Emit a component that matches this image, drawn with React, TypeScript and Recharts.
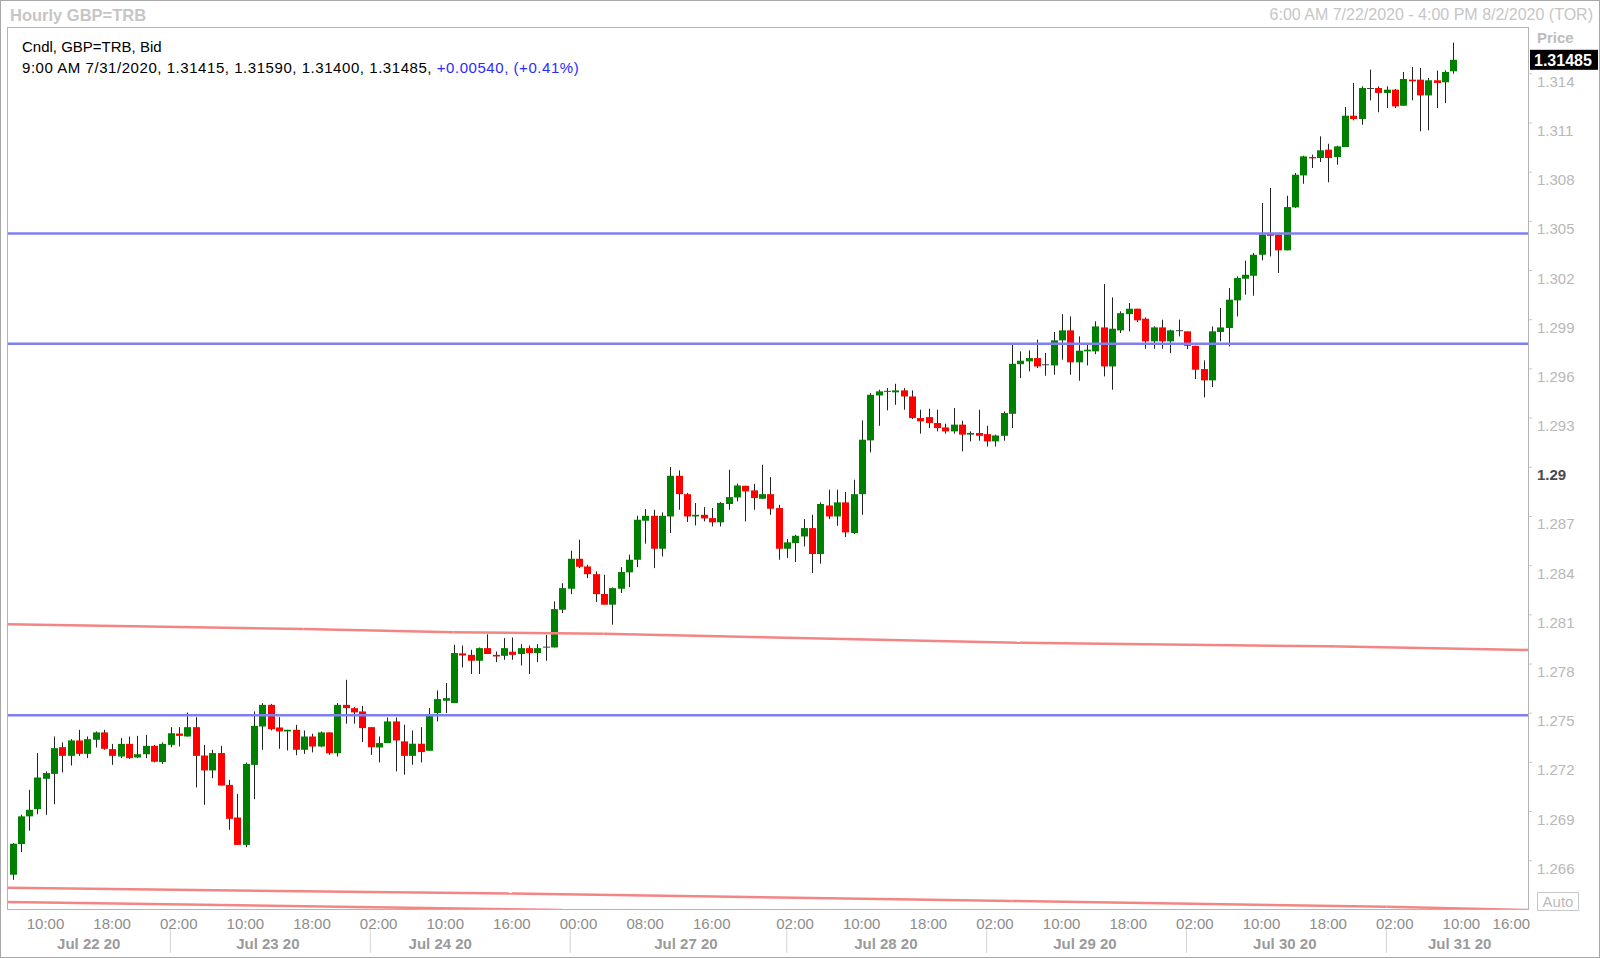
import { ComposedChart, Bar, XAxis, YAxis, ReferenceLine } from "recharts"

// hourly GBP bid candles, 6:00 AM 7/22/2020 .. 9:00 AM 7/31/2020 (weekend collapsed)
const opens = [
  1.26515, 1.26702, 1.26871, 1.26915, 1.271, 1.2713, 1.27293, 1.2724, 1.27334, 1.27252,
  1.27338, 1.27383, 1.27281, 1.27236, 1.27313, 1.2723, 1.2725, 1.27301, 1.27202, 1.27307,
  1.27376, 1.27358, 1.27415, 1.27242, 1.27151, 1.27257, 1.27063, 1.26864, 1.26697, 1.27185,
  1.27419, 1.27551, 1.27413, 1.27389, 1.27399, 1.27277, 1.27358, 1.27297, 1.27383, 1.27256,
  1.27551, 1.27531, 1.27511, 1.27415, 1.27291, 1.27318, 1.2745, 1.27328, 1.2724, 1.27314,
  1.27271, 1.27501, 1.27576, 1.27562, 1.27865, 1.27856, 1.2782, 1.27897, 1.27856, 1.2785,
  1.27875, 1.27861, 1.27897, 1.27867, 1.27897, 1.27901, 1.28131, 1.28259, 1.28442, 1.28395,
  1.28348, 1.28227, 1.28162, 1.28259, 1.28359, 1.28436, 1.28674, 1.28704, 1.28503, 1.287,
  1.28948, 1.28836, 1.287, 1.2871, 1.2869, 1.28664, 1.28776, 1.28816, 1.28887, 1.28859,
  1.28808, 1.28836, 1.28751, 1.28503, 1.28538, 1.28578, 1.28629, 1.28471, 1.28767, 1.287,
  1.28786, 1.28599, 1.28836, 1.29164, 1.29438, 1.29463, 1.29457, 1.29469, 1.29432, 1.293,
  1.29306, 1.2927, 1.29243, 1.29219, 1.2926, 1.29199, 1.29209, 1.29202, 1.29158, 1.29192,
  1.29326, 1.29629, 1.29646, 1.29666, 1.29619, 1.29621, 1.29774, 1.29835, 1.2964, 1.29707,
  1.29707, 1.29853, 1.29615, 1.29835, 1.29934, 1.29967, 1.29906, 1.29768, 1.29853, 1.29768,
  1.29829, 1.29829, 1.29741, 1.29599, 1.2953, 1.29825, 1.29849, 1.30018, 1.3015, 1.30168,
  1.30296, 1.30425, 1.30419, 1.30323, 1.30585, 1.3078, 1.30892, 1.30886, 1.30937, 1.30892,
  1.30953, 1.31144, 1.31124, 1.3131, 1.31313, 1.31283, 1.31303, 1.31205, 1.31364, 1.31364,
  1.31268, 1.3136, 1.31348, 1.31415,
]
const highs = [
  1.26708, 1.26881, 1.27033, 1.27257, 1.27145, 1.27358, 1.27322, 1.27342, 1.27399, 1.27358,
  1.27389, 1.27399, 1.27313, 1.27348, 1.27358, 1.27362, 1.27368, 1.27307, 1.27322, 1.27415,
  1.27415, 1.27504, 1.27476, 1.27307, 1.27277, 1.27301, 1.27094, 1.27008, 1.27199, 1.27511,
  1.27561, 1.27557, 1.27476, 1.27399, 1.27429, 1.27395, 1.27375, 1.27389, 1.27383, 1.27562,
  1.27704, 1.27537, 1.27545, 1.27415, 1.27358, 1.27474, 1.27474, 1.27429, 1.27395, 1.27415,
  1.27531, 1.27639, 1.27684, 1.27917, 1.27913, 1.27887, 1.27901, 1.27981, 1.27877, 1.27958,
  1.27962, 1.27921, 1.27913, 1.27921, 1.27978, 1.28182, 1.28293, 1.28491, 1.28558, 1.28405,
  1.28365, 1.28344, 1.28267, 1.28391, 1.28467, 1.28704, 1.28745, 1.28741, 1.28725, 1.29001,
  1.28981, 1.28843, 1.28782, 1.28757, 1.28751, 1.28788, 1.28985, 1.289, 1.28887, 1.28899,
  1.29015, 1.2894, 1.28771, 1.28562, 1.28588, 1.28684, 1.2871, 1.28786, 1.28863, 1.28863,
  1.28849, 1.28924, 1.29286, 1.29452, 1.29473, 1.29483, 1.29509, 1.29483, 1.29469, 1.29351,
  1.29357, 1.29351, 1.29266, 1.29361, 1.29284, 1.29219, 1.29351, 1.29253, 1.29199, 1.29341,
  1.29754, 1.29707, 1.29713, 1.29778, 1.29697, 1.29825, 1.29934, 1.2992, 1.29798, 1.29747,
  1.2989, 1.30117, 1.30036, 1.29951, 1.30002, 1.29967, 1.29914, 1.29859, 1.299, 1.29839,
  1.299, 1.29829, 1.29741, 1.29652, 1.29859, 1.29971, 1.30093, 1.30164, 1.3026, 1.30307,
  1.30612, 1.30703, 1.30419, 1.30656, 1.30795, 1.309, 1.30906, 1.31018, 1.30973, 1.30961,
  1.31197, 1.31344, 1.31323, 1.31425, 1.31323, 1.31323, 1.31307, 1.31411, 1.31441, 1.31435,
  1.31374, 1.31419, 1.31421, 1.3159,
]
const lows = [
  1.26484, 1.26653, 1.26783, 1.26884, 1.2688, 1.26945, 1.27139, 1.27181, 1.2724, 1.27226,
  1.27291, 1.27277, 1.27185, 1.27226, 1.27222, 1.27226, 1.27226, 1.272, 1.27191, 1.27293,
  1.27297, 1.27358, 1.27047, 1.26941, 1.27104, 1.27059, 1.26789, 1.26697, 1.26683, 1.26976,
  1.27277, 1.27395, 1.27283, 1.27273, 1.27244, 1.27252, 1.27261, 1.27293, 1.27246, 1.27236,
  1.27436, 1.27436, 1.27324, 1.27246, 1.272, 1.27318, 1.27145, 1.27125, 1.27186, 1.272,
  1.27271, 1.2745, 1.27501, 1.27562, 1.27779, 1.27739, 1.27739, 1.27861, 1.27812, 1.27826,
  1.27826, 1.27791, 1.27739, 1.27812, 1.2782, 1.27901, 1.28111, 1.28226, 1.28385, 1.28324,
  1.28178, 1.28162, 1.2804, 1.28233, 1.28269, 1.28391, 1.28534, 1.28385, 1.28456, 1.28599,
  1.28741, 1.28666, 1.28645, 1.2867, 1.28639, 1.28639, 1.28741, 1.28792, 1.2867, 1.28741,
  1.28806, 1.2871, 1.28436, 1.28446, 1.28422, 1.28517, 1.28355, 1.28412, 1.28684, 1.28643,
  1.28574, 1.28593, 1.2871, 1.29091, 1.29253, 1.29347, 1.29381, 1.29351, 1.29294, 1.29205,
  1.29239, 1.29219, 1.29205, 1.29205, 1.29097, 1.29158, 1.29162, 1.29127, 1.29127, 1.29162,
  1.29239, 1.29544, 1.29585, 1.29605, 1.29558, 1.29564, 1.29656, 1.29564, 1.29528, 1.29621,
  1.2969, 1.29554, 1.29473, 1.29819, 1.29829, 1.29886, 1.29723, 1.29723, 1.29723, 1.29696,
  1.29798, 1.29721, 1.29538, 1.29426, 1.29489, 1.29768, 1.29737, 1.2992, 1.30053, 1.30046,
  1.30262, 1.30286, 1.30185, 1.30323, 1.30581, 1.30729, 1.30825, 1.30862, 1.30738, 1.30845,
  1.30953, 1.31116, 1.31089, 1.31238, 1.31165, 1.31191, 1.31191, 1.31205, 1.31238, 1.31049,
  1.31055, 1.31191, 1.31221, 1.314,
]
const closes = [
  1.26704, 1.26871, 1.26911, 1.27108, 1.27135, 1.27287, 1.2724, 1.27334, 1.27252, 1.27342,
  1.27383, 1.27283, 1.2724, 1.27313, 1.27226, 1.2725, 1.27301, 1.27204, 1.27313, 1.27378,
  1.27362, 1.27415, 1.2724, 1.27151, 1.27257, 1.27059, 1.26856, 1.26697, 1.27191, 1.27423,
  1.27551, 1.27403, 1.27389, 1.27399, 1.27277, 1.27358, 1.27297, 1.27383, 1.27256, 1.27551,
  1.27531, 1.27505, 1.27409, 1.27293, 1.27318, 1.2745, 1.27334, 1.2724, 1.27314, 1.27263,
  1.27484, 1.27586, 1.27592, 1.27867, 1.27852, 1.2782, 1.27897, 1.27861, 1.27846, 1.27897,
  1.27856, 1.27897, 1.27867, 1.27897, 1.27903, 1.28135, 1.28263, 1.28442, 1.28393, 1.28348,
  1.28226, 1.28162, 1.28263, 1.28361, 1.28436, 1.2868, 1.28704, 1.28503, 1.28704, 1.28948,
  1.28836, 1.287, 1.2871, 1.28688, 1.28664, 1.28782, 1.28818, 1.28889, 1.28853, 1.28812,
  1.28836, 1.28747, 1.28503, 1.28542, 1.28582, 1.28629, 1.28471, 1.28776, 1.287, 1.28786,
  1.28603, 1.28836, 1.29168, 1.29442, 1.29463, 1.29457, 1.29469, 1.29432, 1.293, 1.2928,
  1.2927, 1.29239, 1.29219, 1.2926, 1.29199, 1.29209, 1.29192, 1.29158, 1.29194, 1.29331,
  1.29631, 1.2965, 1.29666, 1.29615, 1.29625, 1.29774, 1.29835, 1.2964, 1.29711, 1.29717,
  1.29859, 1.29615, 1.29845, 1.2994, 1.29967, 1.29896, 1.29768, 1.29853, 1.29768, 1.29835,
  1.29833, 1.29741, 1.29595, 1.2953, 1.29829, 1.29853, 1.30022, 1.30154, 1.30174, 1.30296,
  1.30419, 1.30412, 1.30323, 1.30587, 1.30784, 1.30896, 1.30884, 1.30933, 1.30886, 1.30957,
  1.31144, 1.31124, 1.31313, 1.3131, 1.31283, 1.31303, 1.31201, 1.31368, 1.31354, 1.31268,
  1.3136, 1.31344, 1.31411, 1.31485,
]

// bottom axis: bar index -> hour label
const timeTickIdx = [4, 12, 20, 28, 36, 44, 52, 60, 68, 76, 84, 94, 102, 110, 118, 126, 134, 142, 150, 158, 166, 174, 180]
const timeTickLabels = ["10:00", "18:00", "02:00", "10:00", "18:00", "02:00", "10:00", "16:00", "00:00", "08:00", "16:00",
  "02:00", "10:00", "18:00", "02:00", "10:00", "18:00", "02:00", "10:00", "18:00", "02:00", "10:00", "16:00"]
const dateTickIdx = [9.2, 30.7, 51.4, 80.9, 104.9, 128.8, 152.8, 173.8]
const dateTickLabels = ["Jul 22 20", "Jul 23 20", "Jul 24 20", "Jul 27 20", "Jul 28 20", "Jul 29 20", "Jul 30 20", "Jul 31 20"]
const daySeparators = [19, 43, 67, 93, 117, 141, 165]

const priceTicks = [1.266, 1.269, 1.272, 1.275, 1.278, 1.281, 1.284, 1.287, 1.29, 1.293, 1.296, 1.299, 1.302, 1.305, 1.308, 1.311, 1.314]
const lastPrice = 1.31485

// drawn horizontal levels
const levels = [1.30426, 1.29754, 1.27488]
// moving-average style lines: [index, price] pairs
const maUpper = [[-0.5, 1.28042], [35, 1.28013], [53, 1.27994], [71, 1.27984], [121, 1.2793], [158, 1.27908], [182, 1.27886]]
const maLow1 = [[-0.5, 1.26435], [60, 1.264], [120, 1.26355], [165, 1.2632], [182, 1.263]]
const maLow2 = [[-0.5, 1.26349], [66, 1.263]]

const bars = opens.map((o, i) => ({ i, o, h: highs[i], l: lows[i], c: closes[i] }))

const GREEN = "#008000"
const RED = "#ff0000"
const FONT = '"Liberation Sans", Arial, sans-serif'

function Candle(props: any) {
  const { x, y, width, height, payload } = props
  if (!payload) return <g />
  const { o, h, l, c } = payload
  const top = Math.min(y, y + height)
  const span = Math.abs(height)
  const k = h > l ? span / (h - l) : 0
  const cx = Math.round(x + width / 2) + 0.5
  const yo = top + (h - o) * k
  const yc = top + (h - c) * k
  const bodyTop = Math.min(yo, yc)
  const bodyH = Math.abs(yo - yc)
  return (
    <g>
      <line x1={cx} x2={cx} y1={top} y2={top + span} stroke="#222" strokeWidth={1} />
      {bodyH < 1 ? (
        <line x1={cx - 3.5} x2={cx + 3.5} y1={bodyTop} y2={bodyTop} stroke="#444" strokeWidth={1} />
      ) : (
        <rect x={cx - 3.5} y={bodyTop} width={7} height={bodyH} fill={c > o ? GREEN : RED} />
      )}
    </g>
  )
}

function PriceTick(props: any) {
  const { x, y, payload } = props
  const bold = Math.abs(payload.value - 1.29) < 1e-6
  return (
    <g>
      <line x1={x} x2={x + 4} y1={y} y2={y} stroke="#c8c8c8" />
      <text x={x + 9} y={y + 13} fontSize={15} fontFamily={FONT} fontWeight={bold ? 700 : 400}
        fill={bold ? "#4a4a4a" : "#b8b8b8"}>
        {bold ? "1.29" : payload.value.toFixed(3)}
      </text>
    </g>
  )
}

function TimeTick(props: any) {
  const { x, y, payload } = props
  const k = timeTickIdx.indexOf(payload.value)
  return (
    <text x={x} y={y + 20} textAnchor="middle" fontSize={15} fontFamily={FONT} fill="#8c8c8c">
      {k >= 0 ? timeTickLabels[k] : ""}
    </text>
  )
}

function DateTick(props: any) {
  const { x, y, payload } = props
  const k = dateTickIdx.indexOf(payload.value)
  if (k < 0) return <line x1={x} x2={x} y1={y} y2={y + 24} stroke="#d4d4d4" />
  return (
    <text x={x} y={y + 20} textAnchor="middle" fontSize={15} fontWeight={700} fontFamily={FONT} fill="#9a9a9a">
      {dateTickLabels[k]}
    </text>
  )
}

function LastPriceBox(props: any) {
  const { viewBox } = props
  const x = viewBox.x + viewBox.width + 2
  const y = viewBox.y
  return (
    <g>
      <rect x={x} y={y - 10} width={68} height={20} fill="#000" />
      <text x={x + 4} y={y + 6} fontSize={16} fontWeight={700} fontFamily={FONT} fill="#fff">
        {lastPrice.toFixed(5)}
      </text>
    </g>
  )
}

function seg(pts: number[][], key: string, color: string) {
  return pts.slice(1).map((p, j) => (
    <ReferenceLine
      key={key + j}
      xAxisId="a"
      segment={[{ x: pts[j][0], y: pts[j][1] }, { x: p[0], y: p[1] }]}
      stroke={color}
      strokeWidth={2.5}
      ifOverflow="hidden"
    />
  ))
}

export default function App() {
  return (
    <div style={{ position: "absolute", left: 0, top: 0, width: 1600, height: 958, background: "#fff", overflow: "hidden", fontFamily: FONT }}>
      <ComposedChart width={1600} height={958} data={bars} margin={{ top: 28, right: 0, left: 8, bottom: 9 }}>
        <XAxis xAxisId="b" dataKey="i" type="number" domain={[-0.5, 182]} allowDataOverflow
          ticks={[...dateTickIdx, ...daySeparators]} interval={0} height={20} axisLine={false} tickLine={false}
          tickSize={0} tickMargin={0} tick={<DateTick />} />
        <XAxis xAxisId="a" dataKey="i" type="number" domain={[-0.5, 182]} allowDataOverflow ticks={timeTickIdx}
          interval={0} height={20} axisLine={false} tickLine={false} tickSize={0} tickMargin={0} tick={<TimeTick />} />
        <YAxis orientation="right" width={72} domain={[1.26306, 1.31679]} allowDataOverflow ticks={priceTicks}
          interval={0} axisLine={false} tickLine={false} tickSize={0} tickMargin={0} tick={<PriceTick />} />
        {seg(maUpper, "mu", "#f38585")}
        {seg(maLow1, "m1", "#f38585")}
        {seg(maLow2, "m2", "#f38585")}
        {levels.map((v) => (
          <ReferenceLine key={v} xAxisId="a" y={v} stroke="#7f7ff2" strokeWidth={2.5} ifOverflow="hidden" />
        ))}
        <Bar xAxisId="a" dataKey={(d: any) => [d.l, d.h]} barSize={7} isAnimationActive={false}
          shape={(p: any) => <Candle {...p} />} />
        <ReferenceLine xAxisId="a" y={lastPrice} stroke="none" ifOverflow="visible" label={<LastPriceBox />} />
      </ComposedChart>

      {/* frame and plot border */}
      <div style={{ position: "absolute", left: 0, top: 0, width: 1598, height: 956, border: "1px solid #a8a8a8", pointerEvents: "none" }} />
      <div style={{ position: "absolute", left: 7, top: 27, width: 1520, height: 881, border: "1px solid #b4b4b4", pointerEvents: "none" }} />

      <div style={{ position: "absolute", left: 10, top: 6, fontSize: 16.5, fontWeight: 700, color: "#c6c6c6", lineHeight: "18px" }}>
        Hourly GBP=TRB
      </div>
      <div style={{ position: "absolute", right: 7, top: 6, fontSize: 16, color: "#c6c6c6", lineHeight: "18px" }}>
        6:00 AM 7/22/2020 - 4:00 PM 8/2/2020 (TOR)
      </div>
      <div style={{ position: "absolute", left: 22, top: 36, fontSize: 15, color: "#000", lineHeight: "21px" }}>
        <div>Cndl, GBP=TRB, Bid</div>
        <div style={{ letterSpacing: "0.55px" }}>
          9:00 AM 7/31/2020, 1.31415, 1.31590, 1.31400, 1.31485,{" "}
          <span style={{ color: "#2a2aff" }}>+0.00540, (+0.41%)</span>
        </div>
      </div>
      <div style={{ position: "absolute", left: 1537, top: 29, fontSize: 15, fontWeight: 700, color: "#bcbcbc", lineHeight: "18px" }}>
        Price
      </div>
      <div style={{ position: "absolute", left: 1537, top: 892, width: 40, height: 17, border: "1px solid #c8c8c8",
        fontSize: 15, color: "#bcbcbc", lineHeight: "17px", textAlign: "center" }}>
        Auto
      </div>
    </div>
  )
}
